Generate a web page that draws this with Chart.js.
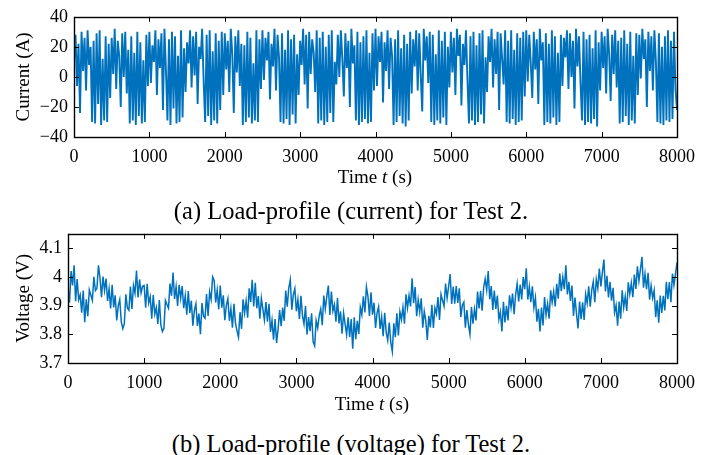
<!DOCTYPE html>
<html>
<head>
<meta charset="utf-8">
<script src="https://cdn.jsdelivr.net/npm/chart.js@4"></script>
<style>
  body { margin: 0; background: #fff; }
  #page { position: relative; width: 710px; height: 455px; font-family: 'Liberation Serif', 'Times New Roman', serif; color: #000; }
  .box { position: absolute; left: 0; width: 710px; }
  .lbl { position: absolute; white-space: nowrap; transform: translateX(-50%); }
</style>
</head>
<body>
<div id="page">
  <div class="box" style="top:0; height:177px;"><canvas id="current-chart"></canvas></div>
  <div class="lbl" style="left:375px; top:166px; font-size:19px;">Time <i>t</i> (s)</div>
  <div class="lbl" style="left:351px; top:197px; font-size:24.5px;">(a) Load-profile (current) for Test 2.</div>
  <div class="box" style="top:217px; height:186px;"><canvas id="voltage-chart"></canvas></div>
  <div class="lbl" style="left:372px; top:393px; font-size:19px;">Time <i>t</i> (s)</div>
  <div class="lbl" style="left:351px; top:430px; font-size:24.5px;">(b) Load-profile (voltage) for Test 2.</div>
</div>
<script>
// sample spacing of both traces, seconds
const TIME_STEP_S = 20;

// load current (A), one sample every 20 s from 0 to 8000 s
const current = [
  12, 28, -6, 22, -24, 30, 4, 26, -9, 31, 8, 20,
  -30, 24, -31, 29, -18, 31, -32, 12, -29, 27, -30, 22, -14,
  26, 2, 32, -8, 24, 14, -20, 29, 0, 30, -11, 18,
  -31, 27, -29, 16, -32, 30, -26, 23, -31, 11, -30, 28, -6,
  30, -4, 21, 10, 31, -12, 25, 6, 29, -22, 32, 4,
  -29, 25, -32, 30, -21, 27, -31, 14, -30, 31, -27, 19, -10,
  23, 9, 31, -7, 27, 1, 30, -18, 20, 12, 32, -3,
  -30, 28, -26, 31, -32, 17, -29, 29, -31, 24, -22, 30, -12,
  29, 5, 24, -10, 32, 15, -24, 27, 3, 31, -6, 22,
  -32, 21, -30, 30, -27, 26, -31, 9, -29, 31, -30, 25, -8,
  31, -2, 26, 11, 30, -15, 22, 7, 32, -9, 28, 13,
  -30, 29, -31, 18, -28, 31, -32, 25, -25, 28, -31, 15, -12,
  24, 8, 32, -5, 28, -21, 30, 2, 25, 16, -10, 31,
  -31, 26, -29, 30, -32, 20, -30, 28, -24, 31, -30, 10, -5,
  28, 0, 31, 12, -13, 29, 6, 24, -20, 32, 9, 21,
  -29, 30, -32, 23, -30, 27, -28, 31, -31, 16, -30, 29, -9,
  32, -6, 27, 10, 30, -17, 23, 4, 31, -8, 26, 14,
  -32, 25, -30, 31, -26, 19, -31, 28, -33, 22, -29, 30, -11,
  25, 7, 31, -9, 29, 1, -23, 32, 11, 27, -4, 30,
  -30, 28, -32, 15, -29, 31, -31, 24, -27, 30, -32, 20, -7,
  30, 3, 26, -12, 32, 14, 28, -19, 22, 8, 31, -2,
  -31, 27, -29, 30, -32, 21, -30, 29, -25, 31, -31, 13, -10,
  27, 10, 32, -7, 25, 2, 30, -22, 29, 12, -5, 31,
  -30, 24, -31, 31, -28, 18, -32, 29, -30, 26, -29, 30, -13,
  31, -3, 28, 9, -14, 30, 5, 25, -18, 32, 11, 23,
  -32, 29, -30, 22, -31, 31, -27, 27, -32, 16, -30, 28, -6,
  26, 13, 31, -8, 29, 0, 24, -21, 32, 7, 27, -4,
  -29, 30, -32, 25, -30, 28, -31, 19, -28, 31, -33, 23, -9,
  30, 6, 27, -11, 32, 15, -16, 28, 2, 31, -7, 24,
  -31, 26, -30, 31, -26, 22, -32, 30, -29, 14, -31, 29, -12,
  28, -1, 32, 12, 25, -20, 30, 4, 27, -9, 31, 10,
  -30, 29, -31, 20, -32, 27, -29, 31, -30, 24, -28, 30, -8,
  -22
];

// terminal voltage (V), same time grid
const voltage = [
  3.960, 3.910, 4.020, 3.970, 4.040, 3.915, 3.992, 3.920, 3.937, 3.875,
  3.952, 3.842, 3.922, 3.863, 3.955, 3.937, 3.918, 4.000, 3.952, 3.960,
  4.040, 3.997, 3.929, 4.001, 3.953, 3.994, 3.916, 3.958, 3.890, 3.972,
  3.894, 3.936, 3.848, 3.899, 3.921, 3.843, 3.820, 3.837, 3.939, 3.892,
  3.884, 3.966, 3.888, 3.970, 3.943, 4.022, 3.928, 3.991, 3.944, 3.967,
  3.970, 3.893, 3.976, 3.909, 3.931, 3.854, 3.937, 3.870, 3.893, 3.836,
  3.919, 3.832, 3.810, 3.821, 3.918, 3.904, 3.891, 3.977, 3.934, 4.015,
  3.923, 3.966, 3.899, 3.972, 3.925, 3.968, 3.891, 3.934, 3.868, 3.951,
  3.874, 3.917, 3.830, 3.883, 3.906, 3.829, 3.872, 3.800, 3.909, 3.863,
  3.856, 3.940, 3.864, 3.948, 3.921, 4.000, 3.988, 3.911, 3.954, 3.887,
  3.970, 3.893, 3.936, 3.849, 3.901, 3.924, 3.847, 3.890, 3.823, 3.906,
  3.839, 3.812, 3.790, 3.877, 3.819, 3.922, 3.874, 3.916, 3.858, 3.960,
  3.913, 3.990, 3.897, 3.979, 3.891, 3.933, 3.854, 3.926, 3.888, 3.850,
  3.912, 3.844, 3.906, 3.808, 3.849, 3.781, 3.853, 3.770, 3.819, 3.884,
  3.828, 3.893, 3.847, 3.952, 3.896, 3.961, 3.990, 3.886, 3.938, 3.959,
  3.880, 3.921, 3.853, 3.934, 3.865, 3.836, 3.898, 3.799, 3.860, 3.811,
  3.873, 3.774, 3.760, 3.848, 3.822, 3.865, 3.888, 3.832, 3.935, 3.888,
  3.932, 3.970, 3.867, 3.949, 3.881, 3.903, 3.844, 3.926, 3.838, 3.880,
  3.802, 3.874, 3.836, 3.798, 3.859, 3.791, 3.853, 3.750, 3.859, 3.783,
  3.847, 3.801, 3.894, 3.868, 3.932, 3.876, 3.965, 3.932, 3.864, 3.946,
  3.868, 3.910, 3.822, 3.874, 3.896, 3.819, 3.861, 3.793, 3.875, 3.807,
  3.779, 3.841, 3.773, 3.740, 3.838, 3.790, 3.873, 3.796, 3.879, 3.851,
  3.894, 3.837, 3.939, 3.892, 3.935, 3.897, 3.995, 3.908, 3.965, 3.863,
  3.920, 3.878, 3.925, 3.823, 3.880, 3.848, 3.780, 3.864, 3.824, 3.903,
  3.822, 3.892, 3.871, 3.930, 3.850, 3.939, 3.918, 3.898, 3.977, 3.926,
  3.966, 4.010, 3.906, 3.966, 3.907, 3.968, 3.909, 3.960, 3.860, 3.901,
  3.912, 3.823, 3.884, 3.834, 3.800, 3.896, 3.837, 3.888, 3.848, 3.949,
  3.890, 3.951, 3.882, 3.963, 3.993, 3.954, 4.020, 3.922, 3.968, 3.885,
  3.952, 3.888, 3.935, 3.852, 3.878, 3.810, 3.913, 3.841, 3.899, 3.848,
  3.936, 3.894, 3.942, 3.870, 3.938, 3.976, 3.914, 3.973, 3.921, 3.999,
  3.957, 4.030, 3.921, 3.966, 3.912, 3.967, 3.893, 3.928, 3.844, 3.889,
  3.810, 3.893, 3.831, 3.930, 3.868, 3.906, 3.854, 3.953, 3.911, 3.949,
  3.897, 3.976, 3.924, 4.012, 3.950, 3.999, 3.957, 4.040, 3.939, 3.983,
  3.916, 3.970, 3.864, 3.928, 3.871, 3.820, 3.914, 3.853, 3.911, 3.850,
  3.939, 3.908, 3.967, 3.896, 3.954, 3.983, 3.912, 3.991, 3.960, 4.029,
  3.967, 4.016, 4.060, 3.949, 4.004, 3.928, 3.983, 3.917, 3.962, 3.876,
  3.901, 3.830, 3.914, 3.854, 3.953, 3.893, 3.932, 3.881, 3.981, 3.940,
  3.979, 3.929, 4.008, 3.958, 4.037, 3.986, 4.026, 4.070, 3.962, 4.010,
  3.957, 4.014, 3.921, 3.969, 3.926, 3.953, 3.860, 3.918, 3.840, 3.935,
  3.874, 3.934, 3.883, 3.983, 3.922, 3.982, 3.912, 4.011, 3.971, 4.010,
  4.050
];

const currentTicks = [-40, -20, 0, 20, 40];
const voltageTicks = [3.7, 3.8, 3.9, 4.0, 4.1];
const timeTicks = [0, 1000, 2000, 3000, 4000, 5000, 6000, 7000, 8000];

Chart.defaults.font.family = "'Liberation Serif', 'Times New Roman', serif";
Chart.defaults.color = '#000';

const LINE = '#0072BD';

// box round the axes and inward tick marks, matlab style
const frame = {
  id: 'frame',
  afterDraw(chart) {
    const { ctx, chartArea: a, scales } = chart;
    const len = 5;
    ctx.save();
    ctx.strokeStyle = '#000';
    ctx.lineWidth = 1;
    ctx.beginPath();
    scales.x.ticks.forEach(t => {
      const px = Math.round(scales.x.getPixelForValue(t.value)) + 0.5;
      ctx.moveTo(px, a.bottom); ctx.lineTo(px, a.bottom - len);
      ctx.moveTo(px, a.top); ctx.lineTo(px, a.top + len);
    });
    scales.y.ticks.forEach(t => {
      const py = Math.round(scales.y.getPixelForValue(t.value)) + 0.5;
      ctx.moveTo(a.left, py); ctx.lineTo(a.left + len, py);
      ctx.moveTo(a.right, py); ctx.lineTo(a.right - len, py);
    });
    ctx.stroke();
    ctx.lineWidth = 1.4;
    ctx.strokeRect(Math.round(a.left) + 0.5, Math.round(a.top) + 0.5,
      Math.round(a.right - a.left), Math.round(a.bottom - a.top));
    ctx.restore();
  }
};

const fmt = v => String(+Number(v).toFixed(2)).replace('-', '\u2212');

function makeChart(id, values, yTicks, yMin, yMax, yTitle, axisWidth, lineWidth) {
  return new Chart(document.getElementById(id), {
    type: 'line',
    data: {
      datasets: [{
        data: values.map((v, i) => ({ x: i * TIME_STEP_S, y: v })),
        borderColor: LINE,
        borderWidth: lineWidth,
        pointRadius: 0,
        tension: 0
      }]
    },
    options: {
      responsive: true,
      maintainAspectRatio: false,
      animation: false,
      layout: { padding: { top: 15, right: 33, left: 0, bottom: 0 } },
      plugins: { legend: { display: false }, tooltip: { enabled: false } },
      scales: {
        x: {
          type: 'linear',
          min: 0,
          max: 8000,
          afterBuildTicks: s => { s.ticks = timeTicks.map(v => ({ value: v })); },
          afterFit: s => { s.height = 40; },
          grid: { display: false, drawTicks: false },
          border: { display: false },
          ticks: { padding: 9, maxRotation: 0, autoSkip: false, font: { size: 18 }, callback: v => fmt(v) }
        },
        y: {
          min: yMin,
          max: yMax,
          afterBuildTicks: s => { s.ticks = yTicks.map(v => ({ value: v })); },
          afterFit: s => { s.width = axisWidth; },
          grid: { display: false, drawTicks: false },
          border: { display: false },
          title: { display: true, text: yTitle, font: { size: 19 }, padding: { top: 13, bottom: 0 } },
          ticks: { padding: 6, autoSkip: false, font: { size: 18 }, callback: v => fmt(v) }
        }
      }
    },
    plugins: [frame]
  });
}

makeChart('current-chart', current, currentTicks, -40, 40, 'Current (A)', 74, 1.9);
makeChart('voltage-chart', voltage, voltageTicks, 3.7, 4.15, 'Voltage (V)', 68, 1.5);
</script>
</body>
</html>
